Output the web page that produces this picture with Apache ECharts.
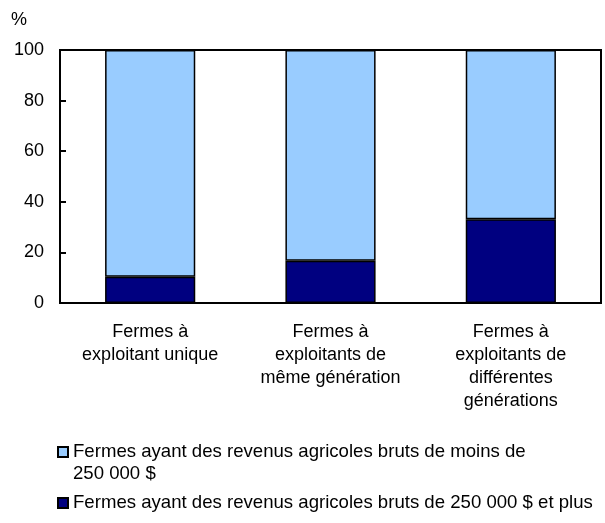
<!DOCTYPE html>
<html>
<head>
<meta charset="utf-8">
<script src="https://cdn.jsdelivr.net/npm/echarts@6/dist/echarts.min.js"></script>
<style>
  html, body { margin: 0; padding: 0; background: #fff; }
  #chart { width: 605px; height: 523px; }
</style>
</head>
<body>
<div id="chart"></div>
<script>
// categories and values (percent)
const categories = [
  'Fermes à\nexploitant unique',
  'Fermes à\nexploitants de\nmême génération',
  'Fermes à\nexploitants de\ndifférentes\ngénérations'
]
const over250 = [10.4, 16.7, 33.1]
const under250 = [89.6, 83.3, 66.9]
const nameUnder = 'Fermes ayant des revenus agricoles bruts de moins de\n250 000 $'
const nameOver = 'Fermes ayant des revenus agricoles bruts de 250 000 $ et plus'

const font = 'Liberation Sans, Arial, sans-serif'

let myChart = echarts.init(document.getElementById('chart'))

let option = {
  animation: false,
  textStyle: { fontFamily: font },
  graphic: [{
    type: 'text',
    left: 11,
    top: 11,
    style: { text: '%', fontSize: 18, fill: '#000', fontFamily: font }
  }],
  grid: {
    left: 60,
    right: 4,
    top: 50,
    bottom: 220,
    show: true,
    borderColor: '#000',
    borderWidth: 2,
    backgroundColor: 'transparent'
  },
  legend: [{
    data: [nameUnder],
    // blank first line keeps the icon next to the first text line
    formatter: name => '\n' + name,
    icon: 'rect',
    orient: 'vertical',
    left: 57,
    top: 419,
    padding: 0,
    itemWidth: 10,
    itemHeight: 10,
    textStyle: { fontFamily: font, fontSize: 18.6, color: '#000', lineHeight: 22 }
  }, {
    data: [nameOver],
    icon: 'rect',
    orient: 'vertical',
    left: 57,
    top: 492,
    padding: 0,
    itemWidth: 10,
    itemHeight: 10,
    textStyle: { fontFamily: font, fontSize: 18.6, color: '#000', lineHeight: 22 }
  }],
  xAxis: {
    type: 'category',
    data: categories,
    axisLine: { lineStyle: { color: '#000', width: 2 } },
    axisTick: { show: false },
    axisLabel: {
      color: '#000',
      fontSize: 18,
      lineHeight: 23,
      margin: 18,
      interval: 0
    }
  },
  yAxis: {
    type: 'value',
    min: 0,
    max: 100,
    interval: 20,
    splitLine: { show: false },
    axisLine: { show: true, lineStyle: { color: '#000', width: 2 } },
    axisTick: { show: true, inside: true, length: 6, lineStyle: { color: '#000', width: 2 } },
    axisLabel: { color: '#000', fontSize: 18, margin: 16 }
  },
  series: [
    {
      name: nameOver,
      type: 'bar',
      stack: 'total',
      barWidth: '50%',
      data: over250,
      itemStyle: { color: '#000080', borderColor: '#000', borderWidth: 1.5 }
    },
    {
      name: nameUnder,
      type: 'bar',
      stack: 'total',
      barWidth: '50%',
      data: under250,
      itemStyle: { color: '#99ccff', borderColor: '#000', borderWidth: 1.5 }
    }
  ]
}

myChart.setOption(option)
</script>
</body>
</html>
